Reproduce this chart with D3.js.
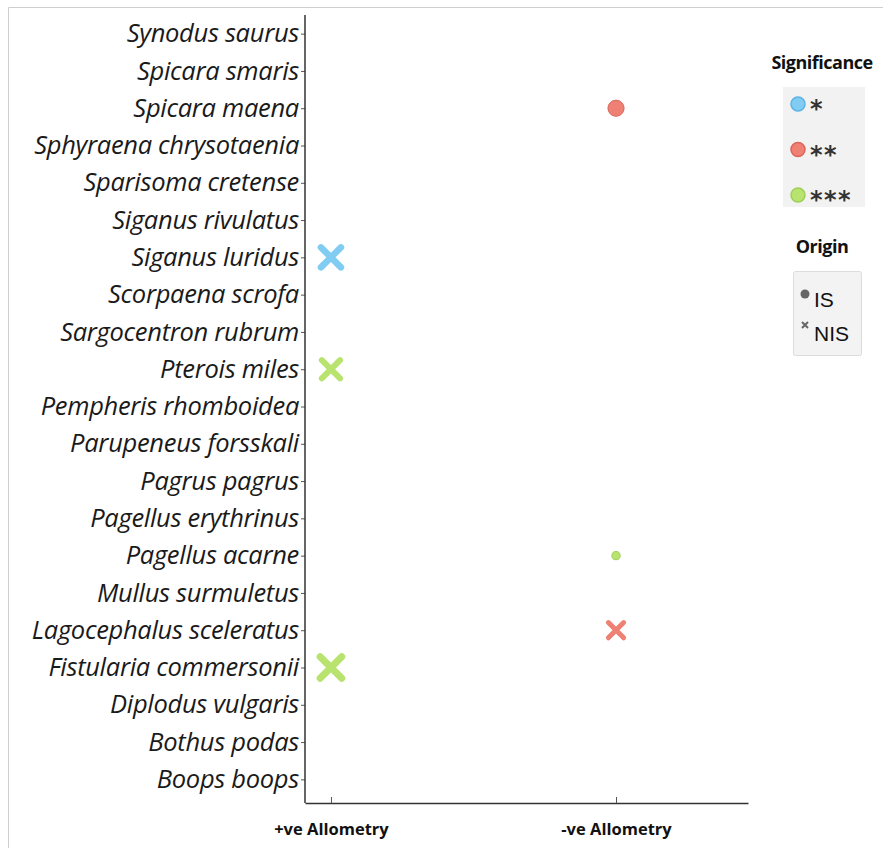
<!DOCTYPE html>
<html>
<head>
<meta charset="utf-8">
<script src="https://cdn.jsdelivr.net/npm/d3@7"></script>
<style>
  body { margin: 0; background: #fff; }
  svg { display: block; }
</style>
</head>
<body>
<svg id="chart" width="883" height="848"></svg>
<script>
'use strict';

// species, top to bottom as on the y axis
const species = [
  'Synodus saurus', 'Spicara smaris', 'Spicara maena', 'Sphyraena chrysotaenia',
  'Sparisoma cretense', 'Siganus rivulatus', 'Siganus luridus', 'Scorpaena scrofa',
  'Sargocentron rubrum', 'Pterois miles', 'Pempheris rhomboidea', 'Parupeneus forsskali',
  'Pagrus pagrus', 'Pagellus erythrinus', 'Pagellus acarne', 'Mullus surmuletus',
  'Lagocephalus sceleratus', 'Fistularia commersonii', 'Diplodus vulgaris',
  'Bothus podas', 'Boops boops'
];

const allometry = ['+ve Allometry', '-ve Allometry'];
const significance = ['*', '**', '***'];
const origin = ['IS', 'NIS'];

// plotted points
const ptSpecies = ['Spicara maena', 'Siganus luridus', 'Pterois miles', 'Pagellus acarne',
  'Lagocephalus sceleratus', 'Fistularia commersonii'];
const ptAllometry = ['-ve Allometry', '+ve Allometry', '+ve Allometry', '-ve Allometry',
  '-ve Allometry', '+ve Allometry'];
const ptSignif = ['**', '*', '***', '***', '**', '***'];
const ptOrigin = ['IS', 'NIS', 'NIS', 'IS', 'NIS', 'NIS'];
const ptWeight = [5, 12, 10, 1.3, 7, 14];

const points = ptSpecies.map((s, i) => ({
  species: s, allometry: ptAllometry[i], signif: ptSignif[i],
  origin: ptOrigin[i], weight: ptWeight[i]
}));

const fill = d3.scaleOrdinal(significance, ['#80ccf3', '#ee8074', '#b9e36f']);
const edge = d3.scaleOrdinal(significance, ['#5bb3e6', '#dc655b', '#9fcf55']);

const svg = d3.select('#chart');

// outer frame
svg.append('path')
  .attr('d', 'M8.5,848 V7.5 H883')
  .attr('fill', 'none')
  .attr('stroke', '#cfcfcf');

const y = d3.scalePoint().domain(species).range([15, 798]).padding(0.5);
const xi = d3.scaleLinear().domain([-0.091, 1.463]).range([305, 748]);
const x = (c) => xi(allometry.indexOf(c));
const size = d3.scaleSqrt().domain([0, 14]).range([0, 27]);

// y axis
const gy = svg.append('g')
  .attr('transform', 'translate(305,0)')
  .call(d3.axisLeft(y).tickSize(4).tickPadding(2).tickSizeOuter(0));
gy.select('.domain').remove();
gy.append('line').attr('y1', 15).attr('y2', 803)
  .attr('stroke', '#333').attr('stroke-width', 1.5);
gy.selectAll('.tick line').attr('stroke', '#555');
gy.selectAll('.tick text')
  .attr('font-family', 'Open Sans, sans-serif')
  .attr('font-style', 'italic')
  .attr('font-size', 25.5)
  .attr('letter-spacing', -0.3)
  .attr('fill', '#1a1a1a');

// x axis
const gx = svg.append('g')
  .attr('transform', 'translate(0,803)')
  .call(d3.axisBottom(xi).tickValues([0, 1]).tickFormat((i) => allometry[i])
    .tickSizeInner(-6).tickSizeOuter(0).tickPadding(20));
gx.select('.domain').attr('stroke', '#333').attr('stroke-width', 1.5);
gx.selectAll('.tick line').attr('stroke', '#555');
gx.selectAll('.tick text')
  .attr('font-family', 'Open Sans, sans-serif')
  .attr('font-weight', 'bold')
  .attr('font-size', 16.5)
  .attr('fill', '#111');

// points
const marks = svg.append('g');
points.forEach((d) => {
  const cx = x(d.allometry), cy = y(d.species), s = size(d.weight);
  if (d.origin === 'IS') {
    marks.append('circle')
      .attr('cx', cx).attr('cy', cy).attr('r', s / 2)
      .attr('fill', fill(d.signif))
      .attr('stroke', edge(d.signif)).attr('stroke-width', 1);
  } else {
    const h = s / 2 - s * 0.1;
    marks.append('path')
      .attr('d', `M${cx - h},${cy - h}L${cx + h},${cy + h}M${cx - h},${cy + h}L${cx + h},${cy - h}`)
      .attr('stroke', fill(d.signif))
      .attr('stroke-width', s * 0.26)
      .attr('stroke-linecap', 'round')
      .attr('fill', 'none');
  }
});

// legend: significance
const lg = svg.append('g');
lg.append('text').attr('x', 822).attr('y', 69).attr('text-anchor', 'middle')
  .attr('font-family', 'Open Sans, sans-serif').attr('font-weight', 'bold')
  .attr('font-size', 18).attr('letter-spacing', -0.5).attr('fill', '#111').text('Significance');
lg.append('rect').attr('x', 783).attr('y', 87).attr('width', 82).attr('height', 120)
  .attr('fill', '#f2f2f2');
significance.forEach((k, i) => {
  const ly = 104 + i * 45.5;
  lg.append('circle').attr('cx', 798).attr('cy', ly).attr('r', 7)
    .attr('fill', fill(k)).attr('stroke', edge(k)).attr('stroke-width', 1.5);
  lg.append('text').attr('x', 810).attr('y', ly + 13)
    .attr('font-family', 'DejaVu Sans, sans-serif').attr('font-weight', 'bold')
    .attr('font-size', 24).attr('letter-spacing', 1.5)
    .attr('fill', '#333').text(k);
});

// legend: origin
lg.append('text').attr('x', 822).attr('y', 253).attr('text-anchor', 'middle')
  .attr('font-family', 'Open Sans, sans-serif').attr('font-weight', 'bold')
  .attr('font-size', 18).attr('letter-spacing', -0.5).attr('fill', '#111').text('Origin');
lg.append('rect').attr('x', 793.5).attr('y', 271.5).attr('width', 68).attr('height', 84)
  .attr('rx', 2).attr('fill', '#f3f3f3').attr('stroke', '#dcdcdc');
lg.append('circle').attr('cx', 805).attr('cy', 294).attr('r', 4.5).attr('fill', '#666');
lg.append('path').attr('d', 'M802,322L808,328M802,328L808,322')
  .attr('stroke', '#666').attr('stroke-width', 2);
origin.forEach((k, i) => {
  lg.append('text').attr('x', 814).attr('y', 307 + i * 34)
    .attr('font-family', 'Liberation Sans, sans-serif').attr('font-size', 21)
    .attr('fill', '#111').text(k);
});
</script>
</body>
</html>
